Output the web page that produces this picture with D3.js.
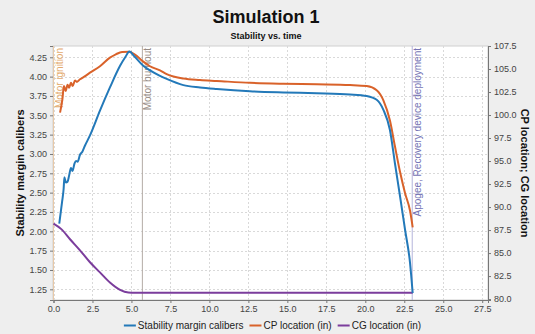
<!DOCTYPE html>
<html>
<head>
<meta charset="utf-8">
<script src="https://cdn.jsdelivr.net/npm/d3@7"></script>
<style>
  html, body { margin: 0; padding: 0; background: #eeeeee; }
  svg { display: block; font-family: "Liberation Sans", Arial, sans-serif; }
</style>
</head>
<body>
<svg id="chart" width="535" height="334"></svg>
<script>
// ---- Data ----
const title = "Simulation 1";
const subtitle = "Stability vs. time";
const seriesNames = ["Stability margin calibers", "CP location (in)", "CG location (in)"];
const seriesColors = ["#2379b9", "#d9622a", "#7b3d9c"];

const timeStability = [0.37, 0.55, 0.65, 0.70, 0.80, 0.90, 1.00, 1.12, 1.22, 1.35, 1.45, 1.55, 1.70, 1.85, 2.00, 2.34, 2.98, 3.62, 4.27, 4.60, 4.87, 5.20, 5.76, 6.19, 6.83, 7.26, 8.33, 9.40, 10.47, 12.6, 14.74, 16.88, 19.02, 20.09, 20.73, 21.16, 21.58, 21.90, 22.23, 22.55, 22.87, 23.04];
const stability = [2.10, 2.38, 2.55, 2.70, 2.63, 2.64, 2.72, 2.82, 2.78, 2.88, 2.91, 2.90, 2.99, 3.03, 3.10, 3.24, 3.56, 3.86, 4.14, 4.25, 4.325, 4.26, 4.14, 4.08, 4.01, 3.97, 3.89, 3.86, 3.84, 3.81, 3.795, 3.785, 3.77, 3.75, 3.70, 3.57, 3.31, 2.88, 2.45, 2.02, 1.59, 1.20];

const timeCP = [0.42, 0.57, 0.67, 0.78, 0.90, 1.00, 1.12, 1.23, 1.38, 1.50, 1.70, 2.00, 2.34, 2.98, 3.62, 4.00, 4.40, 4.84, 5.20, 5.76, 6.19, 6.83, 7.26, 8.33, 9.40, 10.47, 12.6, 14.74, 16.88, 19.02, 20.09, 20.73, 21.16, 21.58, 21.90, 22.23, 22.55, 22.87, 23.04];
const cpLocation = [100.26, 101.7, 103.15, 102.6, 103.3, 102.95, 103.5, 103.15, 103.75, 103.6, 103.88, 104.2, 104.6, 105.3, 106.24, 106.6, 106.85, 106.87, 106.6, 105.8, 105.3, 104.85, 104.45, 103.96, 103.8, 103.7, 103.5, 103.4, 103.34, 103.26, 103.15, 102.7, 101.6, 99.4, 96.6, 93.8, 91.5, 89.6, 87.8];

const timeCG = [0.0, 0.5, 1.06, 1.7, 2.34, 2.98, 3.62, 4.27, 4.8, 5.2, 23.04];
const cgLocation = [88.2, 87.6, 86.5, 85.3, 84.0, 82.9, 81.8, 81.0, 80.72, 80.7, 80.7];

const events = ["Motor ignition", "Motor burnout", "Apogee, Recovery device deployment"];
const eventTimes = [0.0, 5.7, 23.01];
const eventColors = ["#e3aa6c", "#958a84", "#7573b5"];
const eventLineColors = ["#e8c9a8", "#b3aba5", "#b5b4dc"];

const xTicks = [0, 2.5, 5, 7.5, 10, 12.5, 15, 17.5, 20, 22.5, 25, 27.5];
const leftTicks = [1.25, 1.5, 1.75, 2.0, 2.25, 2.5, 2.75, 3.0, 3.25, 3.5, 3.75, 4.0, 4.25];
const rightTicks = [80, 82.5, 85, 87.5, 90, 92.5, 95, 97.5, 100, 102.5, 105, 107.5];
const leftLabel = "Stability margin calibers";
const rightLabel = "CP location; CG location";

// ---- Layout ----
const W = 535, H = 334;
const plot = { left: 53, right: 488, top: 46, bottom: 300 };

const svg = d3.select("#chart");
svg.append("rect").attr("width", W).attr("height", H).attr("fill", "#eeeeee");

const x = d3.scaleLinear().domain([0, 27.87]).range([plot.left + 0.5, plot.right]);
const yL = d3.scaleLinear().domain([1.112, 4.396]).range([plot.bottom, plot.top]);
const yR = d3.scaleLinear().domain([79.9, 107.5]).range([plot.bottom, plot.top]);

// plot background
svg.append("rect")
  .attr("x", plot.left).attr("y", plot.top)
  .attr("width", plot.right - plot.left).attr("height", plot.bottom - plot.top)
  .attr("fill", "#ffffff").attr("stroke", "#cfcfcf").attr("stroke-width", 1);

// grid
const grid = svg.append("g").attr("stroke", "#d9d9d9").attr("stroke-dasharray", "2,2").attr("stroke-width", 1);
grid.selectAll("line.v").data(xTicks).join("line")
  .attr("x1", d => Math.round(x(d)) + 0.5).attr("x2", d => Math.round(x(d)) + 0.5)
  .attr("y1", plot.top).attr("y2", plot.bottom);
grid.selectAll("line.h").data(leftTicks).join("line")
  .attr("y1", d => Math.round(yL(d)) + 0.5).attr("y2", d => Math.round(yL(d)) + 0.5)
  .attr("x1", plot.left).attr("x2", plot.right);

// axes
function styleAxis(g) {
  g.selectAll("text").attr("fill", "#444").style("font-size", "9px")
    .style("font-family", "'Liberation Sans', Arial, sans-serif");
  g.selectAll("line").attr("stroke", "#777");
  g.select(".domain").attr("stroke", "#777");
}
svg.append("g").attr("transform", `translate(0,${plot.bottom})`)
  .call(d3.axisBottom(x).tickValues(xTicks).tickFormat(d3.format(".1f")).tickSizeOuter(0).tickSize(3).tickPadding(3))
  .call(styleAxis);
svg.append("g").attr("transform", `translate(${plot.left},0)`)
  .call(d3.axisLeft(yL).tickValues(leftTicks).tickFormat(d3.format(".2f")).tickSizeOuter(0).tickSize(3).tickPadding(3))
  .call(styleAxis);
svg.append("g").attr("transform", `translate(${plot.right},0)`)
  .call(d3.axisRight(yR).tickValues(rightTicks).tickFormat(d3.format(".1f")).tickSizeOuter(0).tickSize(3).tickPadding(3))
  .call(styleAxis);

// event markers
const ev = svg.append("g");
events.forEach((name, i) => {
  const xp = x(eventTimes[i]);
  ev.append("line").attr("x1", xp).attr("x2", xp).attr("y1", plot.top).attr("y2", plot.bottom)
    .attr("stroke", eventLineColors[i]).attr("stroke-width", 1);
  ev.append("text")
    .attr("transform", `translate(${xp + 9},${plot.top + 2}) rotate(-90)`)
    .attr("text-anchor", "end")
    .attr("fill", eventColors[i]).style("font-size", "10px")
    .text(name);
});

// lines
const lineL = d3.line().curve(d3.curveMonotoneX).x(d => x(d[0])).y(d => yL(d[1]));
const lineR = d3.line().curve(d3.curveMonotoneX).x(d => x(d[0])).y(d => yR(d[1]));
const cgData = timeCG.map((t, i) => [t, cgLocation[i]]);
const cpData = timeCP.map((t, i) => [t, cpLocation[i]]);
const stData = timeStability.map((t, i) => [t, stability[i]]);
const lines = svg.append("g").attr("fill", "none").attr("stroke-width", 2).attr("stroke-linejoin", "round");
lines.append("path").attr("d", lineR(cgData)).attr("stroke", seriesColors[2]);
lines.append("path").attr("d", lineR(cpData)).attr("stroke", seriesColors[1]);
lines.append("path").attr("d", lineL(stData)).attr("stroke", seriesColors[0]);

// titles
svg.append("text").attr("x", 266).attr("y", 23).attr("text-anchor", "middle")
  .style("font-size", "18px").style("font-weight", "bold").attr("fill", "#111").text(title);
svg.append("text").attr("x", 266).attr("y", 39).attr("text-anchor", "middle")
  .style("font-size", "9px").style("font-weight", "bold").attr("fill", "#111").text(subtitle);

// axis labels
const cy = (plot.top + plot.bottom) / 2;
svg.append("text").attr("transform", `translate(24,${cy}) rotate(-90)`).attr("text-anchor", "middle")
  .style("font-size", "11px").style("font-weight", "bold").attr("fill", "#111").text(leftLabel);
svg.append("text").attr("transform", `translate(521,${cy}) rotate(90)`).attr("text-anchor", "middle")
  .style("font-size", "11px").style("font-weight", "bold").attr("fill", "#111").text(rightLabel);

// legend
const leg = svg.append("g");
let lx = 0;
seriesNames.forEach((name, i) => {
  const g = leg.append("g").attr("transform", `translate(${lx},0)`);
  g.append("line").attr("x1", 0).attr("x2", 12).attr("y1", 0).attr("y2", 0)
    .attr("stroke", seriesColors[i]).attr("stroke-width", 2);
  const t = g.append("text").attr("x", 14).attr("y", 3.5).style("font-size", "10px").attr("fill", "#222").text(name);
  lx += 14 + t.node().getComputedTextLength() + 6;
});
leg.attr("transform", `translate(${272.5 - (lx - 6) / 2},325.5)`);
</script>
</body>
</html>
